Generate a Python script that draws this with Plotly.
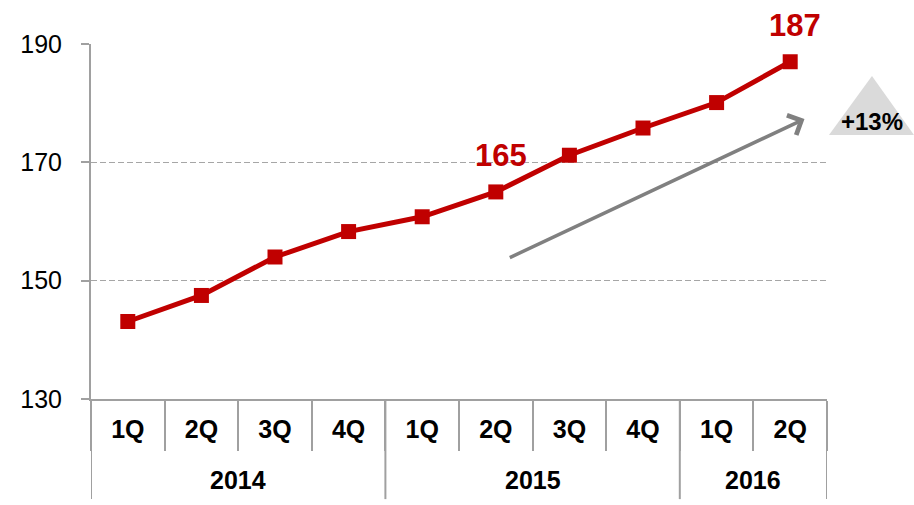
import plotly.graph_objects as go

years = ["2014", "2014", "2014", "2014", "2015", "2015", "2015", "2015", "2016", "2016"]
quarters = ["1Q", "2Q", "3Q", "4Q", "1Q", "2Q", "3Q", "4Q", "1Q", "2Q"]
values = [143.1, 147.5, 154.0, 158.3, 160.8, 165.0, 171.2, 175.8, 180.1, 187.0]
highlight_idx = [5, 9]
y_ticks = [130, 150, 170, 190]
growth_label = "+13%"

RED = "#C00000"
AXIS = "#A0A0A0"
GRID = "#A6A6A6"
FONT = "Liberation Sans, Arial, sans-serif"

n = len(values)
xs = list(range(n))
boundaries = [i - 0.5 for i in range(n + 1)]
year_groups = []
for i, yv in enumerate(years):
    if not year_groups or year_groups[-1][0] != yv:
        year_groups.append([yv, i, i])
    else:
        year_groups[-1][2] = i

fig = go.Figure()
fig.add_trace(go.Scatter(
    x=xs, y=values, mode="lines+markers",
    line=dict(color=RED, width=5),
    marker=dict(symbol="square", size=15, color=RED),
    showlegend=False, hoverinfo="skip",
))

# value callouts
for i in highlight_idx:
    fig.add_annotation(x=xs[i], y=values[i], text="<b>%d</b>" % round(values[i]),
                       showarrow=False, xshift=5, yshift=36, xanchor="center", yanchor="middle",
                       font=dict(size=31, color=RED, family=FONT))

# year labels and dividers under the quarter row
for yv, a, b in year_groups:
    fig.add_annotation(x=(a + b) / 2, xref="x", y=-0.228, yref="y domain",
                       text="<b>%s</b>" % yv, showarrow=False, xanchor="center", yanchor="middle",
                       font=dict(size=25, color="black", family=FONT))
div_pos = [year_groups[0][1] - 0.5] + [g[2] + 0.5 for g in year_groups]
for xb in div_pos:
    fig.add_shape(type="line", xref="x", yref="y domain", x0=xb, x1=xb, y0=0, y1=-0.282,
                  line=dict(color=AXIS, width=2))

# growth arrow
fig.add_annotation(xref="x domain", yref="y domain", x=0.9694, y=0.7887, ax=0.567, ay=0.3963,
                   axref="x domain", ayref="y domain", showarrow=True, arrowhead=4, arrowsize=1.2,
                   arrowwidth=3.5, arrowcolor="#808080", text="")
# triangle badge
fig.add_shape(type="path", xref="x domain", yref="y domain",
              path="M 1.0611 0.9099 L 1.0027 0.7437 L 1.1182 0.7437 Z",
              fillcolor="#DADADA", line=dict(width=0), layer="below")
fig.add_annotation(xref="x domain", yref="y domain", x=1.0618, y=0.783, text="<b>" + growth_label + "</b>",
                   showarrow=False, xanchor="center", yanchor="middle",
                   font=dict(size=24, color="black", family=FONT))

fig.update_layout(
    width=914, height=505,
    margin=dict(l=91, r=87, t=44, b=106),
    paper_bgcolor="white", plot_bgcolor="rgba(0,0,0,0)",
    font=dict(family=FONT, color="black"),
    xaxis=dict(
        range=[-0.5, n - 0.5], tickmode="array", tickvals=xs, ticktext=quarters,
        showline=True, linecolor=AXIS, linewidth=2, ticks="", ticklabelstandoff=7,
        tickfont=dict(size=25, family=FONT, color="black", weight="bold"),
        showgrid=False, zeroline=False,
        minor=dict(tickmode="array", tickvals=boundaries, ticks="outside", ticklen=50,
                   tickwidth=2, tickcolor=AXIS, showgrid=False),
    ),
    yaxis=dict(
        range=[130, 190], tickmode="array", tickvals=y_ticks, showline=True, linecolor=AXIS, linewidth=2,
        ticks="outside", ticklen=8, tickcolor=AXIS, tickwidth=2, ticklabelstandoff=14,
        showgrid=True, gridcolor=GRID, griddash="6px,3px", gridwidth=1.5,
        tickfont=dict(size=25, color="black", family=FONT), zeroline=False,
    ),
)

fig.write_html("out.html", config={"displayModeBar": False, "staticPlot": True},
               post_script="document.body.style.margin='0';document.body.style.overflow='hidden';")
